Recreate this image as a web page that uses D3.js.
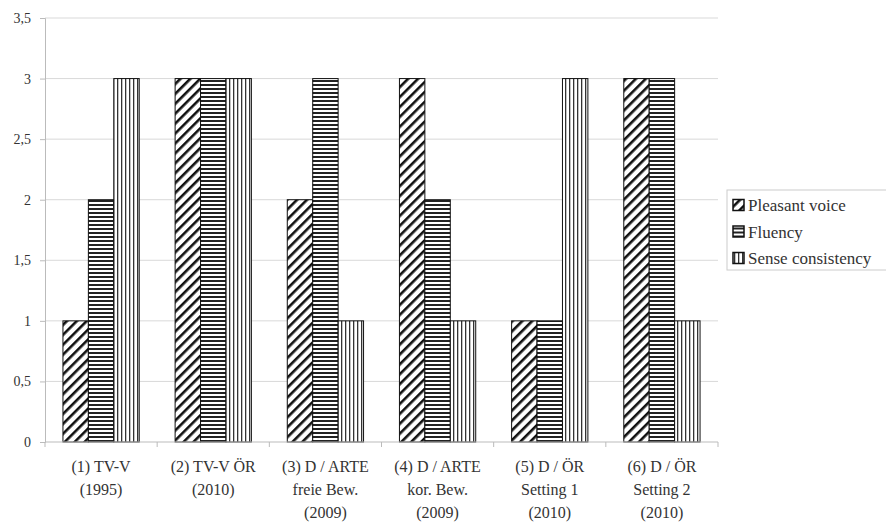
<!DOCTYPE html>
<html>
<head>
<meta charset="utf-8">
<script src="https://cdn.jsdelivr.net/npm/d3@7"></script>
<style>
  body { margin: 0; background: #fff; }
  svg text { font-family: "Times New Roman", "Liberation Serif", "DejaVu Serif", serif !important; fill: #333; }
</style>
</head>
<body>
<svg width="886" height="525"></svg>
<script>
const categories = [
    ["(1) TV-V", "(1995)"],
    ["(2) TV-V ÖR", "(2010)"],
    ["(3) D / ARTE", "freie Bew.", "(2009)"],
    ["(4) D / ARTE", "kor. Bew.", "(2009)"],
    ["(5) D / ÖR", "Setting 1", "(2010)"],
    ["(6) D / ÖR", "Setting 2", "(2010)"]
];
const seriesNames = ["Pleasant voice", "Fluency", "Sense consistency"];
const pleasantVoice = [1, 3, 2, 3, 1, 3];
const fluency = [2, 3, 3, 2, 1, 3];
const senseConsistency = [3, 3, 1, 1, 3, 1];
const yTicks = [0, 0.5, 1, 1.5, 2, 2.5, 3, 3.5];

const series = [pleasantVoice, fluency, senseConsistency];
const patternIds = ["pDiag", "pHoriz", "pVert"];

const width = 886;
const height = 525;
const margin = { top: 18, right: 168, bottom: 83, left: 45 };
const serif = "'Times New Roman', 'Liberation Serif', 'DejaVu Serif', serif";

const svg = d3.select("svg");

// hatch patterns
const defs = svg.append("defs");
const diag = defs.append("pattern")
    .attr("id", "pDiag").attr("patternUnits", "userSpaceOnUse")
    .attr("width", 7).attr("height", 7)
    .attr("patternTransform", "rotate(45)");
diag.append("rect").attr("width", 7).attr("height", 7).attr("fill", "#fff");
diag.append("rect").attr("x", 0).attr("width", 2.6).attr("height", 7).attr("fill", "#111");

const horiz = defs.append("pattern")
    .attr("id", "pHoriz").attr("patternUnits", "userSpaceOnUse")
    .attr("width", 4).attr("height", 4);
horiz.append("rect").attr("width", 4).attr("height", 4).attr("fill", "#fff");
horiz.append("rect").attr("y", 0).attr("width", 4).attr("height", 2).attr("fill", "#222");

const vert = defs.append("pattern")
    .attr("id", "pVert").attr("patternUnits", "userSpaceOnUse")
    .attr("width", 4).attr("height", 4);
vert.append("rect").attr("width", 4).attr("height", 4).attr("fill", "#fff");
vert.append("rect").attr("x", 1).attr("width", 1.3).attr("height", 4).attr("fill", "#333");

const x = d3.scaleBand()
    .domain(d3.range(categories.length))
    .range([margin.left, width - margin.right])
    .paddingInner(0.32)
    .paddingOuter(0.16);

const xOuter = d3.scaleBand()
    .domain(d3.range(categories.length))
    .range([margin.left, width - margin.right]);

const xInner = d3.scaleBand()
    .domain(d3.range(series.length))
    .range([0, x.bandwidth()]);

const y = d3.scaleLinear()
    .domain([0, 3.5])
    .range([height - margin.bottom, margin.top]);

// gridlines
svg.append("g")
    .selectAll("line")
    .data(yTicks.slice(1))
    .enter().append("line")
    .attr("x1", margin.left)
    .attr("x2", width - margin.right)
    .attr("y1", d => y(d))
    .attr("y2", d => y(d))
    .attr("stroke", "#d9d9d9")
    .attr("stroke-width", 1);

// bars
series.forEach((vals, si) => {
    svg.append("g")
        .selectAll("rect")
        .data(vals)
        .enter().append("rect")
        .attr("x", (d, i) => x(i) + xInner(si))
        .attr("y", d => y(d))
        .attr("width", xInner.bandwidth())
        .attr("height", d => y(0) - y(d))
        .attr("fill", `url(#${patternIds[si]})`)
        .attr("stroke", "#111")
        .attr("stroke-width", 1);
});

// y axis
const yAxis = svg.append("g")
    .attr("transform", `translate(${margin.left},0)`)
    .call(d3.axisLeft(y).tickValues(yTicks).tickSize(5).tickPadding(9)
        .tickFormat(d => String(d).replace(".", ",")));
yAxis.attr("font-family", serif);
yAxis.selectAll("line, path").attr("stroke", "#bbb");
yAxis.selectAll("text").attr("font-size", 14).attr("fill", "#333")
    .style("font-family", serif);

// x axis
const xAxis = svg.append("g")
    .attr("transform", `translate(0,${y(0)})`);
xAxis.append("line")
    .attr("x1", margin.left).attr("x2", width - margin.right)
    .attr("stroke", "#bbb");
xAxis.selectAll(".tick")
    .data(d3.range(categories.length + 1))
    .enter().append("line")
    .attr("class", "tick")
    .attr("x1", i => i < categories.length ? xOuter(i) : width - margin.right)
    .attr("x2", i => i < categories.length ? xOuter(i) : width - margin.right)
    .attr("y1", 0).attr("y2", 5)
    .attr("stroke", "#bbb");

const labels = xAxis.selectAll(".lbl")
    .data(categories)
    .enter().append("text")
    .attr("class", "lbl")
    .attr("text-anchor", "middle")
    .attr("font-size", 16)
    .style("font-family", serif)
    .attr("transform", (d, i) => `translate(${xOuter(i) + xOuter.bandwidth() / 2},0)`);
labels.selectAll("tspan")
    .data(d => d)
    .enter().append("tspan")
    .attr("x", 0)
    .attr("y", (d, i) => 30 + i * 23)
    .text(d => d);

// legend
const legend = svg.append("g").attr("transform", "translate(727,190)");
legend.append("rect")
    .attr("width", 170).attr("height", 80)
    .attr("fill", "#fff").attr("stroke", "#ccc");
const li = legend.selectAll("g.item")
    .data(seriesNames)
    .enter().append("g")
    .attr("class", "item")
    .attr("transform", (d, i) => `translate(6,${15 + i * 26.5})`);
li.append("rect")
    .attr("x", 0).attr("y", -5.5)
    .attr("width", 11).attr("height", 11)
    .attr("fill", (d, i) => `url(#${patternIds[i]})`)
    .attr("stroke", "#111").attr("stroke-width", 1.5);
li.append("text")
    .attr("x", 15).attr("y", 6)
    .attr("font-size", 17)
    .style("font-family", serif)
    .text(d => d);
</script>
</body>
</html>
